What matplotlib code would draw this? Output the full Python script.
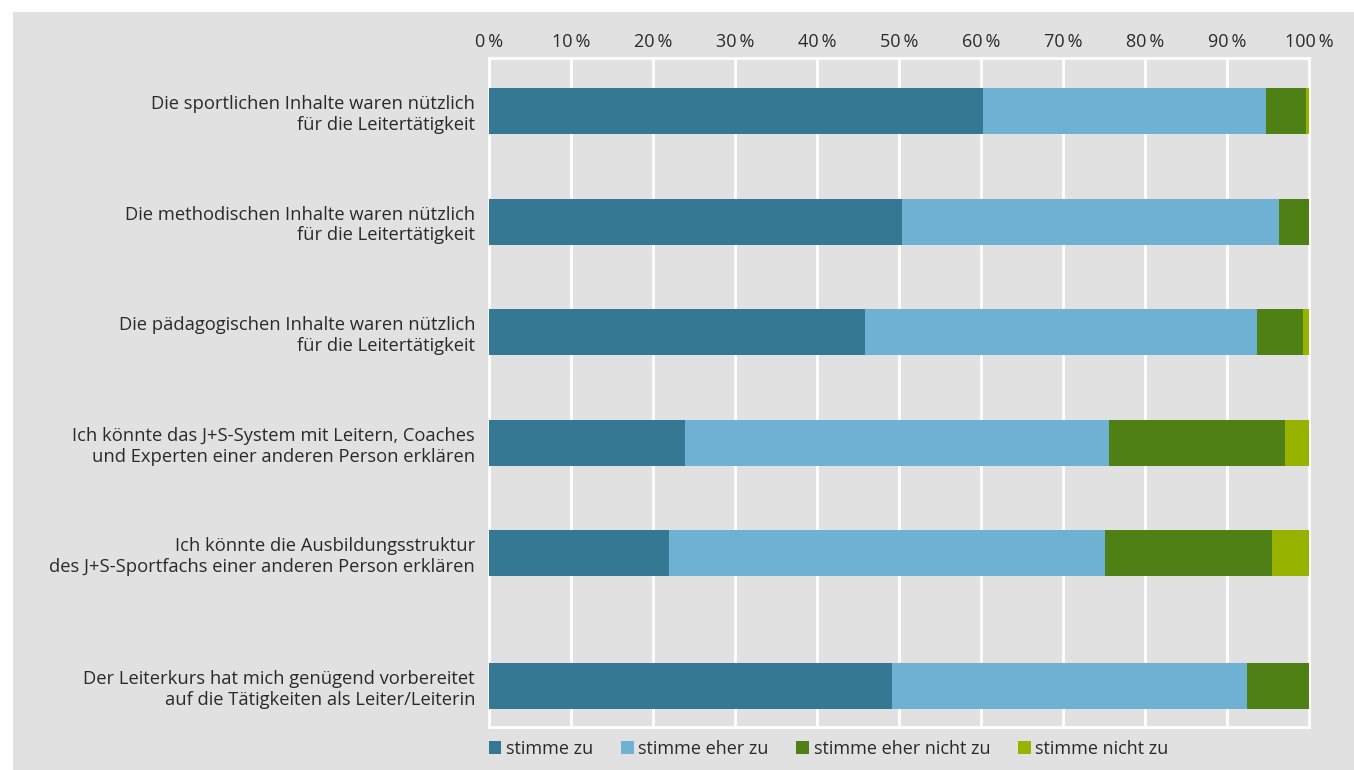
import numpy as np
import matplotlib.pyplot as plt
from matplotlib.patches import Rectangle

# Statements (top to bottom)
statements = [
    'Die sportlichen Inhalte waren nützlich\nfür die Leitertätigkeit',
    'Die methodischen Inhalte waren nützlich\nfür die Leitertätigkeit',
    'Die pädagogischen Inhalte waren nützlich\nfür die Leitertätigkeit',
    'Ich könnte das J+S-System mit Leitern, Coaches\nund Experten einer anderen Person erklären',
    'Ich könnte die Ausbildungsstruktur\ndes J+S-Sportfachs einer anderen Person erklären',
    'Der Leiterkurs hat mich genügend vorbereitet\nauf die Tätigkeiten als Leiter/Leiterin',
]

# Answer shares in percent
stimme_zu = [60.3, 50.4, 45.9, 23.9, 22.0, 49.1]
stimme_eher_zu = [34.4, 45.9, 47.7, 51.7, 53.1, 43.3]
stimme_eher_nicht_zu = [4.9, 3.7, 5.7, 21.5, 20.4, 7.6]
stimme_nicht_zu = [0.4, 0.0, 0.7, 2.9, 4.5, 0.0]

series = [
    ('stimme zu', stimme_zu, '#347893'),
    ('stimme eher zu', stimme_eher_zu, '#6fb1d3'),
    ('stimme eher nicht zu', stimme_eher_nicht_zu, '#4f8016'),
    ('stimme nicht zu', stimme_nicht_zu, '#97b300'),
]

plt.rcParams['font.family'] = ['Open Sans', 'DejaVu Sans']
bg = '#e1e1e1'
txt = '#2a2a2a'

fig = plt.figure(figsize=(13.54, 7.7), dpi=100)
fig.patch.set_facecolor('white')
fig.add_artist(Rectangle((13 / 1354, 0), 1 - 13 / 1354, 1 - 12 / 770,
                         transform=fig.transFigure, facecolor=bg,
                         edgecolor='none', zorder=-10))

ax = fig.add_axes([489 / 1354, 1 - 727 / 770, 820 / 1354, 669 / 770])
ax.set_facecolor(bg)

# last statement sits a bit further apart
ypos = np.array([0, 1, 2, 3, 4, 5.2])

left = np.zeros(len(statements))
for name, vals, color in series:
    vals = np.array(vals)
    ax.barh(ypos, vals, left=left, height=0.415, color=color, label=name,
            zorder=3)
    left += vals

ax.set_xlim(0, 100)
ax.set_ylim(5.57, -0.48)
ax.set_xticks(np.arange(0, 101, 10))
ax.set_xticklabels([f'{v}\u2009%' for v in range(0, 101, 10)])
ax.xaxis.tick_top()
ax.tick_params(axis='x', length=0, pad=5, labelsize=13, colors=txt)
ax.set_yticks(ypos)
ax.set_yticklabels(statements, fontsize=13.2, color=txt,
                   linespacing=1.2)
ax.tick_params(axis='y', length=0, pad=10)

ax.grid(axis='x', color='white', linewidth=2, zorder=1)
for side in ['top', 'bottom', 'left', 'right']:
    ax.spines[side].set_color('white')
    ax.spines[side].set_linewidth(2)

leg = ax.legend(loc='upper left', bbox_to_anchor=(-0.018, 0.002), ncol=4,
                frameon=False, fontsize=13, handlelength=0.7,
                handleheight=0.7, handletextpad=0.25, columnspacing=1.55,
                labelcolor=txt, borderpad=0.3)

fig.savefig('out.png', dpi=100, facecolor=fig.get_facecolor())
